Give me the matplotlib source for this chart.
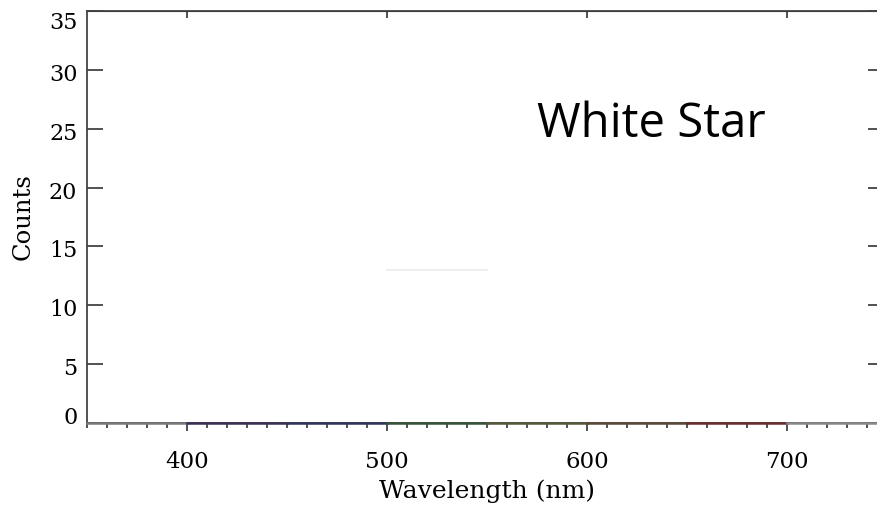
import matplotlib
matplotlib.use("Agg")
import matplotlib.pyplot as plt
import matplotlib.transforms as mtransforms
from matplotlib.ticker import MultipleLocator

#Datos del espectro (longitud de onda en nm y cuentas)
banda_inicio = [350, 400, 450, 500, 550, 600, 650, 700]
banda_fin = [400, 450, 500, 550, 600, 650, 700, 750]
banda_cuentas = [0, 0, 0, 0, 0, 0, 0, 0]
banda_colores = ["#7a7a7a", "#3b2f55", "#2f3458", "#35553a", "#55583a",
                 "#5c4a38", "#6a2d2d", "#8a8a8a"]

#Linea tenue (casi blanca)
tenue_wl = [500, 550]
tenue_cuentas = [13, 13]

y_ticks = [0, 5, 10, 15, 20, 25, 30, 35]
x_ticks = [400, 500, 600, 700]

fig = plt.figure(figsize=(8.77, 5.09), dpi=100)
ax = fig.add_axes([87/877, 86/509, 800/877, 412/509])

#Espectro por bandas
for i in range(len(banda_inicio)):
    ax.plot([banda_inicio[i], banda_fin[i]], [banda_cuentas[i], banda_cuentas[i]],
            color=banda_colores[i], linewidth=1.8, clip_on=False, zorder=3)

ax.plot(tenue_wl, tenue_cuentas, color="#eeeeee", linewidth=1.5)

ax.set_xlim(350, 750)
ax.set_ylim(0, 35)

for s in ax.spines.values():
    s.set_color("#444444")
    s.set_linewidth(1.3)

#Ticks inferiores hacia afuera con menores
ax.set_xticks(x_ticks)
ax.xaxis.set_minor_locator(MultipleLocator(10))
ax.tick_params(axis="x", which="major", direction="out", length=6, width=1.2,
               color="#333333", pad=14, labelsize=16.5)
ax.tick_params(axis="x", which="minor", direction="out", length=3.6, width=1.2,
               color="#333333")
ax.set_yticks(y_ticks)
ax.tick_params(axis="y", which="major", direction="in", length=11.5, width=1.2,
               color="#333333", pad=7, labelsize=16)

for lab in ax.get_xticklabels() + ax.get_yticklabels():
    lab.set_family("DejaVu Serif")

#Pequeño desplazamiento de las etiquetas del eje y (como en el original)
ylabs = ax.get_yticklabels()
for k, lab in enumerate(ylabs):
    if k == 0:
        dy = 7.5
    elif k == len(ylabs) - 1:
        dy = -9
    else:
        dy = -2.5
    lab.set_transform(lab.get_transform() +
                      mtransforms.ScaledTranslation(0, dy / 100, fig.dpi_scale_trans))

#Eje superior y derecho (solo marcas)
top = ax.secondary_xaxis("top")
top.set_xticks(x_ticks)
top.tick_params(direction="in", length=5, width=1.2, color="#333333", labeltop=False)
right = ax.secondary_yaxis("right")
right.set_yticks(y_ticks)
right.tick_params(direction="in", length=14, width=1.2, color="#333333", labelright=False)

ax.set_xlabel("Wavelength (nm)", family="DejaVu Serif", fontsize=18, labelpad=5)
ax.set_ylabel("Counts", family="DejaVu Serif", fontsize=17.5, labelpad=10)

ax.text(575, 24.3, "White Star", family="Open Sans", fontsize=34, color="black",
        ha="left", va="baseline")

plt.savefig("out.png", dpi=100)
